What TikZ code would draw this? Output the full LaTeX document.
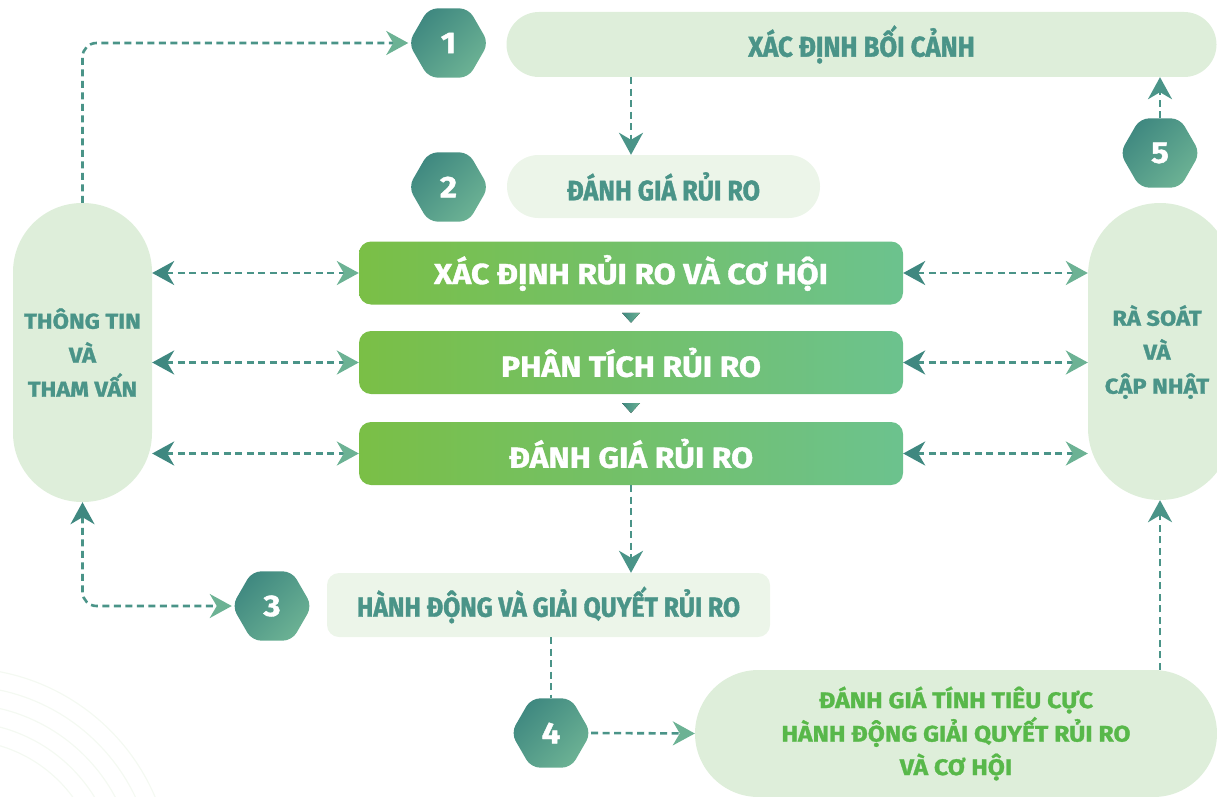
\documentclass[tikz,border=0pt]{standalone}
\usepackage{fontspec}
\setmainfont{Fira Sans}
\newfontfamily\heavyfont{Fira Sans}[FakeStretch=1.1,FakeBold=1.3]
\newfontfamily\condfont{Fira Sans}[FakeStretch=0.9,FakeBold=1.4]
\usetikzlibrary{shapes.geometric,shapes.misc,arrows.meta,positioning,calc}
\definecolor{tl}{RGB}{63,136,128}
\definecolor{tm}{RGB}{74,148,136}
\definecolor{tr}{RGB}{108,178,148}
\definecolor{gl}{RGB}{122,191,70}
\definecolor{gr}{RGB}{108,194,142}
\definecolor{pl}{RGB}{222,238,218}
\definecolor{pk}{RGB}{236,245,233}
\definecolor{gt}{RGB}{88,184,74}
\definecolor{bg}{RGB}{244,249,242}

\begin{document}
\begin{tikzpicture}[x=1pt,y=-1pt,
    hexa/.style={regular polygon,regular polygon sides=6,minimum size=80pt,inner sep=0pt,rounded corners=9pt,left color=tl,right color=tr,shading angle=45,text=white,font=\heavyfont\fontsize{30}{30}\selectfont\bfseries},
    main/.style={rectangle,rounded corners=12pt,minimum width=544pt,minimum height=63pt,left color=gl,right color=gr,text=white,font=\heavyfont\fontsize{29}{30}\selectfont\bfseries},
    pill/.style={rounded rectangle,inner sep=0pt,fill=#1},
    vpill/.style={rectangle,inner sep=0pt,fill=pl,rounded corners=#1},
    lbl/.style={text=tm,font=\condfont\fontsize{#1}{#1}\selectfont\bfseries},
    side/.style={text=tm,align=center,font=\heavyfont\fontsize{21.5}{34}\selectfont\bfseries},
    dsh/.style={draw=tm,line width=2.6pt,dash pattern=on 7pt off 4.5pt},
    arr/.style={dsh,-{Stealth[length=22pt,width=24pt,inset=7pt,color=#1]}},
    bi/.style={dsh,{Stealth[length=22pt,width=24pt,inset=7pt,color=tl]}-{Stealth[length=22pt,width=24pt,inset=7pt,color=tr]}},
    tri/.style={left color=tl,right color=tr},
]
\useasboundingbox (0,0) rectangle (1217,797);
\clip (0,0) rectangle (1217,797);

% Faint background arcs
\foreach \r in {140,158,176,194,212}
  \draw[bg,line width=1.2pt] (-40,880) circle[radius=\r pt];

% Top row
\node[pill=pl,minimum width=710pt,minimum height=65pt,lbl=28.5] (ctx) at (861.5,44.5) {XÁC ĐỊNH BỐI CẢNH};
\node[hexa] (h1) at (448.5,43) {1};
\node[pill=pk,minimum width=313pt,minimum height=63pt,lbl=28] (risk) at (663.5,186.5) {ĐÁNH GIÁ RỦI RO};
\node[hexa] (h2) at (448.5,187) {2};
\node[hexa] (h5) at (1160,153) {5};

% Side pills
\node[vpill=69pt,minimum width=139pt,minimum height=299pt,side] (info) at (82.5,352.5) {THÔNG TIN\\VÀ\\THAM VẤN};
\node[vpill=72pt,minimum width=144pt,minimum height=297pt] (rev) at (1160,351.5) {};
\node[side] (revt) at (1157,352) {RÀ SOÁT\\VÀ\\CẬP NHẬT};

% Main steps
\node[main] (ra) at (631,273) {XÁC ĐỊNH RỦI RO VÀ CƠ HỘI};
\node[main] (rb) at (631,362.5) {PHÂN TÍCH RỦI RO};
\node[main] (rc) at (631,453.5) {ĐÁNH GIÁ RỦI RO};
\coordinate (m1) at ($(ra.south)!0.5!(rb.north)$);
\coordinate (m2) at ($(rb.south)!0.5!(rc.north)$);
\foreach \m in {m1,m2}
  \fill[tri] ($(\m)+(-9,-5)$) -- ($(\m)+(9,-5)$) -- ($(\m)+(0,5)$) -- cycle;

% Bottom rows
\node[rectangle,rounded corners=12pt,fill=pk,minimum width=443pt,minimum height=64pt,lbl=27.5] (act) at (548.5,605) {HÀNH ĐỘNG VÀ GIẢI QUYẾT RỦI RO};
\node[hexa] (h3) at (272,606) {3};
\node[hexa] (h4) at (551,733) {4};
\node[pill=pl,minimum width=522pt,minimum height=127pt,text=gt,align=center,font=\heavyfont\fontsize{22.5}{33.5}\selectfont\bfseries] (neg) at (956,733.5) {ĐÁNH GIÁ TÍNH TIÊU CỰC\\HÀNH ĐỘNG GIẢI QUYẾT RỦI RO\\VÀ CƠ HỘI};

% Connections
\draw[arr=tr,rounded corners=14pt] (info.north) |- (h1.west);
\draw[bi,rounded corners=14pt] (info.south) |- (h3.west);
\draw[arr=tm] (ra.north |- ctx.south) -- (ra.north |- risk.north);
\draw[arr=tm] (rc.south) -- (rc.south |- act.north);
\draw[dsh] (act.south -| h4.north) -- (h4.north);
\draw[arr=tr] (h4.east) -- (neg.west);
\draw[arr=tm] (neg.north -| rev.south) -- (rev.south);
\draw[arr=tm] (h5.north) -- (h5.north |- ctx.south);
\foreach \b in {ra,rb,rc} {
  \draw[bi] (info.east |- \b.west) -- (\b.west);
  \draw[bi] (\b.east) -- (rev.west |- \b.east);
}
\end{tikzpicture}
\end{document}
